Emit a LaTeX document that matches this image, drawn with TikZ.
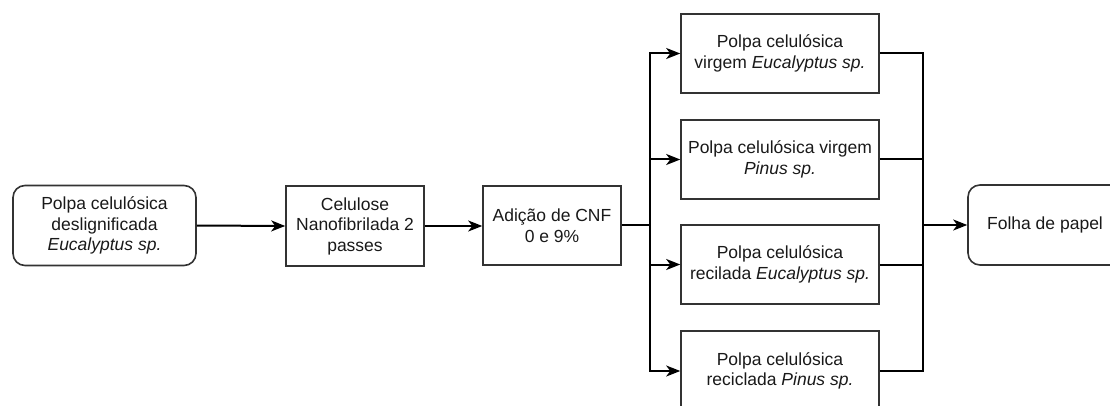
\documentclass[tikz,border=0pt]{standalone}
\usepackage{fontspec}
\setmainfont{Liberation Sans}
\usetikzlibrary{arrows.meta}
\begin{document}
\begin{tikzpicture}[x=1pt,y=-1pt,
  base/.style={draw=black!80, line width=1.6pt, align=center, inner sep=0pt,
    font=\fontsize{17.5}{20.5}\selectfont, text=black!90},
  box/.style={base, rectangle},
  rbox/.style={base, rectangle, rounded corners=12pt},
  conn/.style={line width=2pt, black},
  arr/.style={conn, -{Stealth[length=14pt,width=11pt,inset=4pt]}}]
\useasboundingbox (0,0) rectangle (1110,406);
\begin{scope}
\clip (0,0) rectangle (1110,406);
\node[rbox, minimum width=183pt, minimum height=80pt] (b1) at (104.5,225.5)
  {Polpa celulósica\\deslignificada\\\textit{Eucalyptus sp.}};
\node[box, minimum width=138pt, minimum height=80pt] (b2) at (355,226)
  {Celulose\\Nanofibrilada 2\\passes};
\node[box, minimum width=138pt, minimum height=79pt] (b3) at (552,225.5)
  {Adição de CNF\\0 e 9\%};
\node[box, minimum width=198pt, minimum height=79pt] (ra) at (780,53.5)
  {Polpa celulósica\\virgem \textit{Eucalyptus sp.}};
\node[box, minimum width=198pt, minimum height=79pt] (rb) at (780,159.5)
  {Polpa celulósica virgem\\\textit{Pinus sp.}};
\node[box, minimum width=198pt, minimum height=79pt] (rc) at (780,264.5)
  {Polpa celulósica\\recilada \textit{Eucalyptus sp.}};
\node[box, minimum width=198pt, minimum height=80pt] (rd) at (780,371)
  {Polpa celulósica\\reciclada \textit{Pinus sp.}};
\node[rbox, minimum width=154pt, minimum height=80pt] (f) at (1045,225)
  {Folha de papel};
\coordinate (split) at (650,225);
\coordinate (merge) at (923,225);
\draw[arr] (b1.east) -- (b2.west);
\draw[arr] (b2.east) -- (b2.east -| b3.west);
\draw[conn] (b3.east |- split) -- (split);
\foreach \n in {ra,rb,rc,rd} {
  \draw[arr] (split) |- (\n.west);
  \draw[conn] (\n.east) -| (merge);
}
\draw[arr] (merge) -- (f.west);
\end{scope}
\end{tikzpicture}
\end{document}
